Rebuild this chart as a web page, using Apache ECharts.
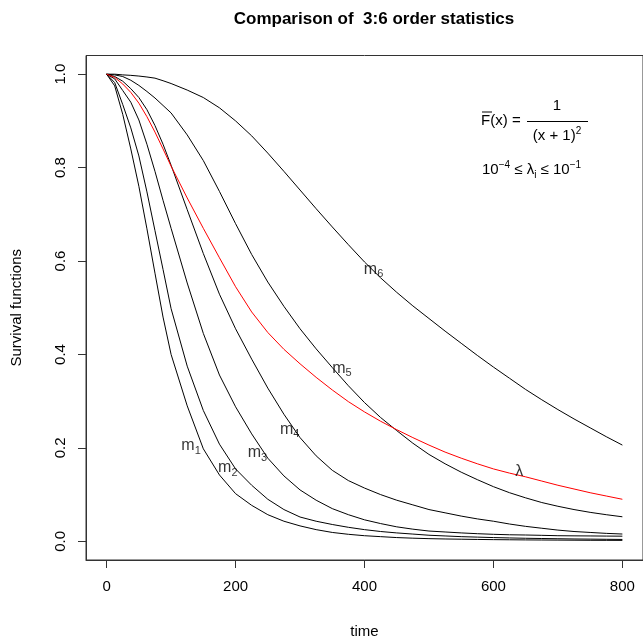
<!DOCTYPE html>
<html>
<head>
<meta charset="utf-8">
<script src="https://cdn.jsdelivr.net/npm/echarts@6/dist/echarts.min.js"></script>
<style>html,body{margin:0;padding:0;background:#fff}#c{width:643px;height:644px}</style>
</head>
<body>
<div id="c"></div>
<script>
// time grid
var times = [0,12.5,25,37.5,50,62.5,75,87.5,100,125,150,175,200,225,250,275,300,325,350,375,400,425,450,475,500,525,550,575,600,625,650,675,700,725,750,775,800];
var m1 = [1,0.975,0.914,0.84,0.76,0.669,0.574,0.48,0.40,0.29,0.198,0.142,0.102,0.077,0.057,0.043,0.033,0.025,0.019,0.015,0.012,0.010,0.008,0.0067,0.0057,0.005,0.0045,0.004,0.0036,0.0033,0.003,0.0028,0.0026,0.0024,0.0022,0.0021,0.002];
var m2 = [1,0.982,0.935,0.885,0.825,0.748,0.665,0.582,0.498,0.375,0.28,0.208,0.155,0.12,0.09,0.068,0.052,0.043,0.036,0.030,0.025,0.021,0.018,0.0155,0.013,0.0115,0.010,0.009,0.008,0.0072,0.0065,0.006,0.0055,0.005,0.0047,0.0043,0.004];
var m3 = [1,0.99,0.965,0.94,0.902,0.85,0.792,0.73,0.67,0.553,0.445,0.356,0.288,0.23,0.178,0.14,0.11,0.088,0.07,0.057,0.046,0.038,0.031,0.026,0.022,0.02,0.018,0.0163,0.015,0.014,0.0135,0.0128,0.012,0.0117,0.0115,0.0112,0.011];
var m4 = [1,0.995,0.985,0.969,0.95,0.924,0.89,0.85,0.805,0.71,0.616,0.529,0.455,0.39,0.328,0.272,0.222,0.183,0.152,0.13,0.114,0.1,0.088,0.078,0.068,0.061,0.054,0.048,0.043,0.037,0.032,0.028,0.024,0.021,0.019,0.017,0.0156];
var m5 = [1,0.9985,0.995,0.987,0.976,0.963,0.949,0.933,0.917,0.87,0.815,0.749,0.68,0.614,0.555,0.503,0.455,0.412,0.372,0.333,0.297,0.265,0.237,0.21,0.186,0.166,0.148,0.132,0.117,0.104,0.093,0.083,0.075,0.068,0.062,0.057,0.0525];
var m6 = [1,1,0.9985,0.9975,0.996,0.994,0.9915,0.986,0.98,0.966,0.95,0.928,0.9,0.868,0.831,0.792,0.752,0.712,0.673,0.635,0.598,0.564,0.533,0.504,0.477,0.45,0.424,0.398,0.373,0.349,0.325,0.303,0.282,0.262,0.243,0.224,0.206];
var lambdaCurve = [1,0.993,0.979,0.961,0.938,0.909,0.876,0.84,0.803,0.735,0.67,0.607,0.545,0.491,0.447,0.411,0.38,0.351,0.324,0.299,0.277,0.257,0.239,0.222,0.206,0.191,0.178,0.166,0.155,0.146,0.138,0.129,0.12,0.112,0.104,0.097,0.09];

var xTicks = [0,200,400,600,800];
var yTicks = [0,0.2,0.4,0.6,0.8,1.0];

// curve labels: text, subscript, position (data coords)
var labelNames = ['m','m','m','m','m','m','λ'];
var labelSubs  = ['1','2','3','4','5','6',''];
var labelX     = [131,188,234,284,365,414,640];
var labelY     = [0.204,0.157,0.189,0.240,0.370,0.581,0.150];

var FONT = 'Liberation Sans, Arial, Helvetica, sans-serif';

function pairs(v){ return times.map(function(t,i){ return [t, v[i]]; }); }
function lineSeries(name, v, color){
  return {
    name: name, type: 'line', data: pairs(v), showSymbol: false, symbol: 'none',
    smooth: false,
    lineStyle: {color: color, width: 1}, z: 2, silent: true
  };
}

var labelData = labelX.map(function(x,i){ return {value:[x, labelY[i]], n: labelNames[i], s: labelSubs[i]}; });

var chart = echarts.init(document.getElementById('c'), null, {renderer:'canvas'});
chart.setOption({
  animation: false,
  backgroundColor: '#fff',
  title: {
    text: 'Comparison of  3:6 order statistics',
    left: 369, top: 6, textAlign: 'center',
    textStyle: {fontFamily: FONT, fontWeight: 'bold', fontSize: 17, color: '#000'}
  },
  grid: {left: 86, top: 55.5, width: 565, height: 507.3, show: true, borderColor: '#333', borderWidth: 1, backgroundColor: 'transparent'},
  xAxis: {
    type: 'value', min: -32, max: 832,
    name: 'time', nameLocation: 'middle', nameGap: 64,
    nameTextStyle: {fontFamily: FONT, fontSize: 15, color: '#000'},
    axisLine: {show: true, onZero: false, lineStyle: {color: '#333', width: 1}},
    axisTick: {show: true, customValues: xTicks, length: 8, lineStyle: {color: '#333'}},
    axisLabel: {show: true, customValues: xTicks, margin: 19, fontFamily: FONT, fontSize: 15, color: '#000'},
    splitLine: {show: false}
  },
  yAxis: {
    type: 'value', min: -0.04, max: 1.04,
    name: 'Survival functions', nameLocation: 'middle', nameGap: 62,
    nameTextStyle: {fontFamily: FONT, fontSize: 15, color: '#000'},
    axisLine: {show: true, onZero: false, lineStyle: {color: '#333', width: 1}},
    axisTick: {show: true, customValues: yTicks, length: 8, lineStyle: {color: '#333'}},
    axisLabel: {show: true, customValues: yTicks, rotate: 90, margin: 18, fontFamily: FONT, fontSize: 15, color: '#000',
      formatter: function(v){ return Number(v).toFixed(1); }},
    splitLine: {show: false}
  },
  series: [
    lineSeries('m1', m1, '#000'),
    lineSeries('m2', m2, '#000'),
    lineSeries('m3', m3, '#000'),
    lineSeries('m4', m4, '#000'),
    lineSeries('m5', m5, '#000'),
    lineSeries('m6', m6, '#000'),
    lineSeries('λ', lambdaCurve, '#ff0000'),
    {
      type: 'scatter', data: labelData, symbolSize: 0, silent: true, z: 5,
      label: {
        show: true, position: 'inside',
        formatter: function(p){ return '{a|' + p.data.n + '}' + (p.data.s ? '{b|' + p.data.s + '}' : ''); },
        rich: {
          a: {fontFamily: FONT, fontSize: 16, color: '#000', lineHeight: 20, verticalAlign: 'middle'},
          b: {fontFamily: FONT, fontSize: 11, color: '#000', lineHeight: 20, verticalAlign: 'bottom'}
        }
      }
    }
  ],
  graphic: [
    {type:'text', left: 481, top: 113, style:{text:'F(x)', font:'15px ' + FONT, fill:'#000'}},
    {type:'line', shape:{x1:482, y1:112, x2:492, y2:112}, style:{stroke:'#000', lineWidth:1}},
    {type:'text', left: 512, top: 113, style:{text:'=', font:'15px ' + FONT, fill:'#000'}},
    {type:'text', x: 557, y: 106, style:{text:'1', font:'15px ' + FONT, fill:'#000', align:'center', verticalAlign:'middle'}},
    {type:'line', shape:{x1:527, y1:121.5, x2:588, y2:121.5}, style:{stroke:'#000', lineWidth:1}},
    {type:'text', x: 557, y: 136, style:{
      text:'{a|(x + 1)}{b|2}', align:'center', verticalAlign:'middle',
      rich:{a:{font:'15px ' + FONT, fill:'#000', lineHeight: 20, verticalAlign:'middle'},
            b:{font:'10px ' + FONT, fill:'#000', lineHeight: 20, verticalAlign:'top'}}
    }},
    {type:'text', x: 482, y: 170, style:{
      text:'{a|10}{b|−4}{a| ≤ λ}{c|i}{a| ≤ 10}{b|−1}', align:'left', verticalAlign:'middle',
      rich:{a:{font:'15px ' + FONT, fill:'#000', lineHeight: 20, verticalAlign:'middle'},
            b:{font:'10px ' + FONT, fill:'#000', lineHeight: 20, verticalAlign:'top'},
            c:{font:'10px ' + FONT, fill:'#000', lineHeight: 20, verticalAlign:'bottom'}}
    }}
  ]
});
</script>
</body>
</html>
